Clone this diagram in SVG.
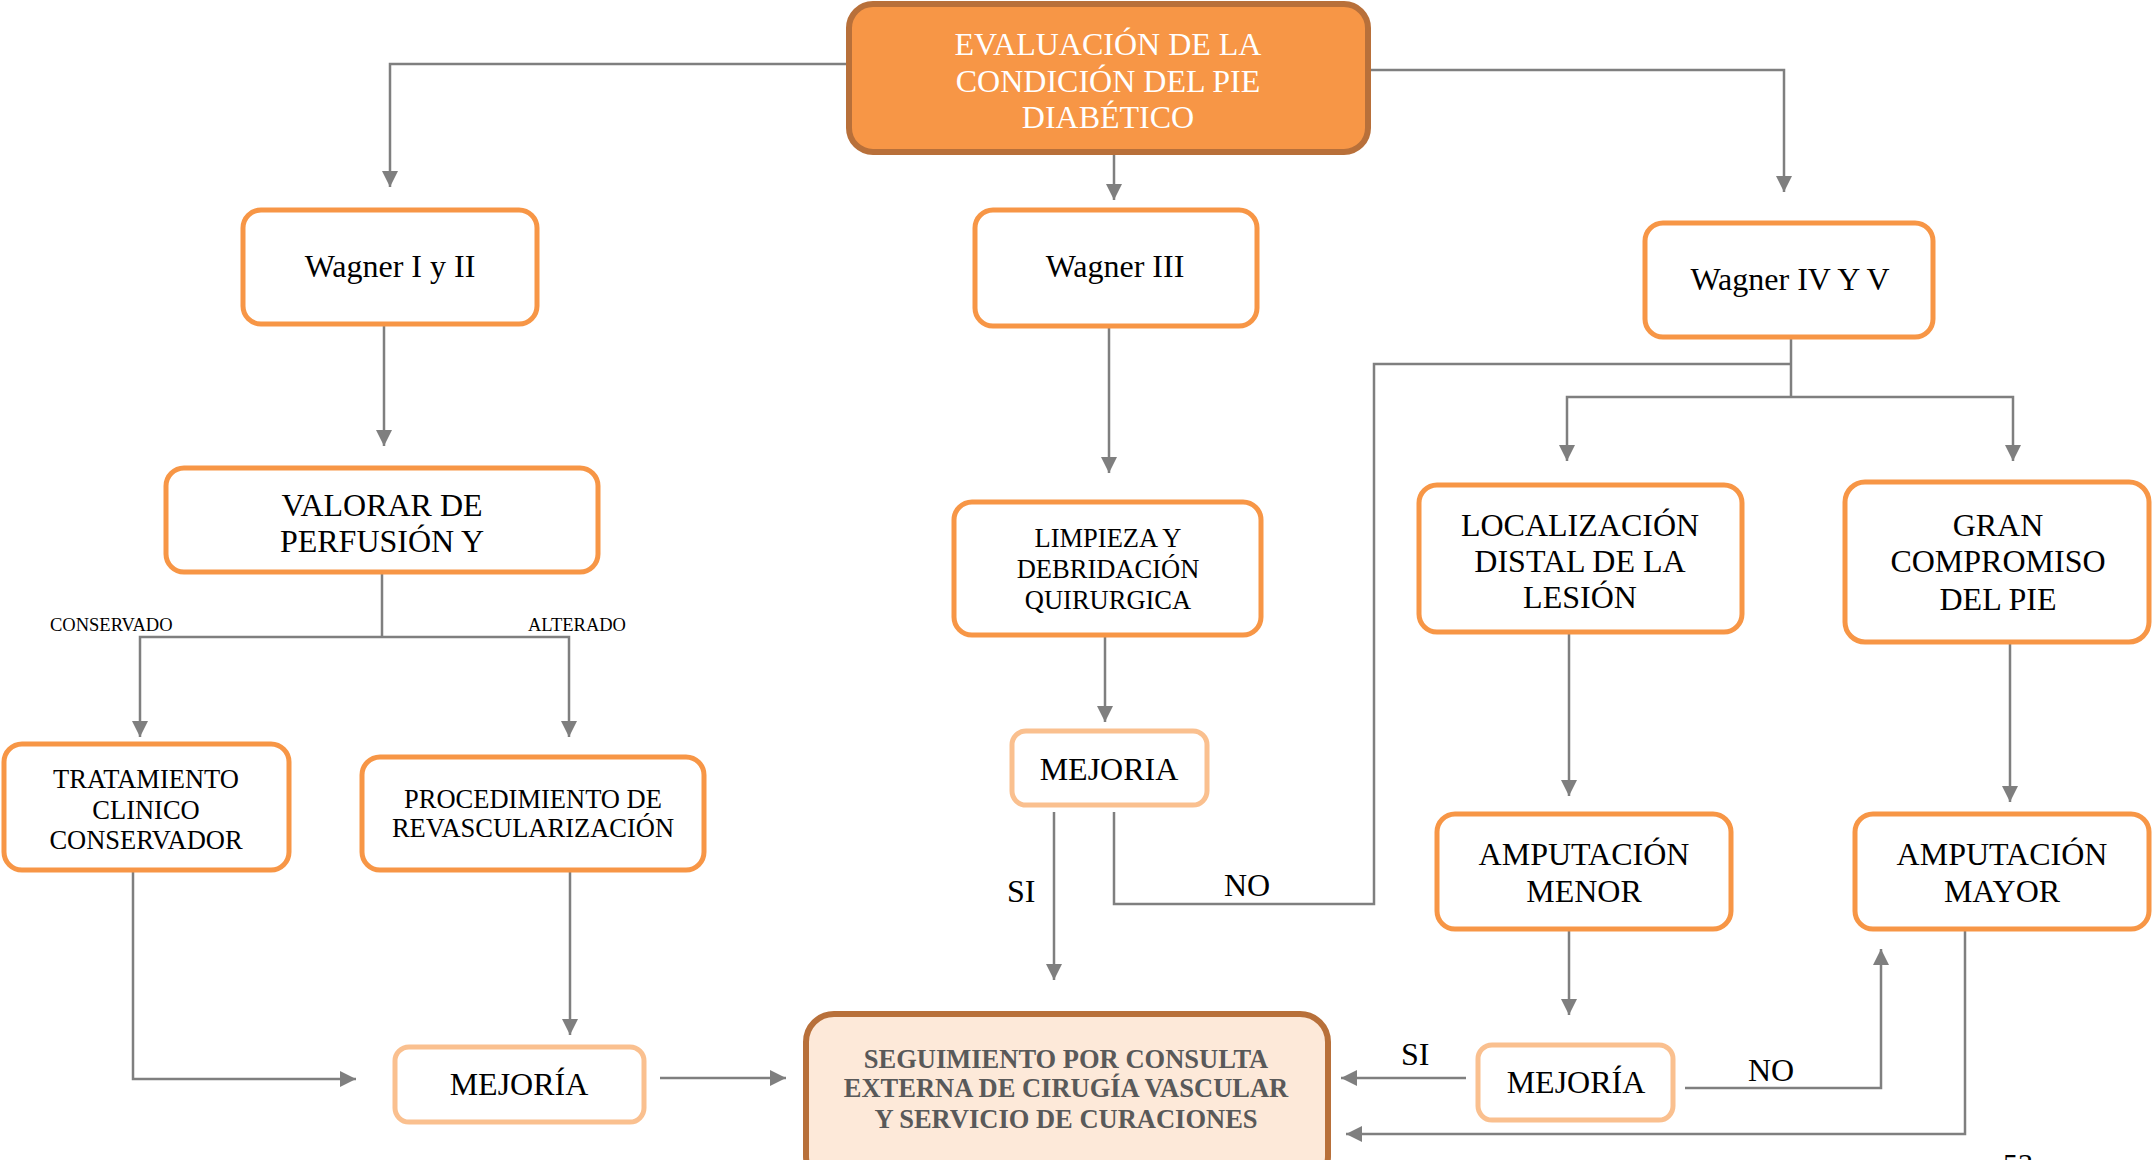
<svg xmlns="http://www.w3.org/2000/svg" width="2156" height="1160" viewBox="0 0 2156 1160">
<defs>
<style>
.box{fill:#fff;stroke:#F79646;stroke-width:5}
.lite{fill:#fff;stroke:#FAC08F;stroke-width:5}
.t{font-family:"Liberation Serif","Times New Roman",serif;fill:#000;text-anchor:middle}
.t32{font-size:32px}
.t26{font-size:26.5px}
.lbl{font-family:"Liberation Serif","Times New Roman",serif;fill:#000}
.c{fill:none;stroke:#7F7F7F;stroke-width:2.5}
.a{marker-end:url(#arr)}
</style>
<marker id="arr" markerUnits="userSpaceOnUse" markerWidth="16" markerHeight="16" refX="16" refY="8" orient="auto">
<path d="M0,0 L16,8 L0,16 z" fill="#7F7F7F"/>
</marker>
</defs>
<rect width="2156" height="1160" fill="#fff"/>

<g id="connectors">
<path class="c a" d="M849,64 H390 V187"/>
<path class="c a" d="M1114,152 V200"/>
<path class="c a" d="M1368,70 H1784 V192"/>
<path class="c a" d="M384,324 V446"/>
<path class="c a" d="M1109,326 V473"/>
<path class="c" d="M1791,337 V397"/>
<path class="c a" d="M1791,397 H1567 V461"/>
<path class="c a" d="M1791,397 H2013 V461"/>
<path class="c" d="M1791,364 H1374 V904 H1114 V812"/>
<path class="c" d="M382,572 V637"/>
<path class="c a" d="M382,637 H140 V737"/>
<path class="c a" d="M382,637 H569 V737"/>
<path class="c a" d="M1105,635 V722"/>
<path class="c a" d="M1054,812 V980"/>
<path class="c a" d="M133,870 V1079 H356"/>
<path class="c a" d="M570,870 V1035"/>
<path class="c a" d="M660,1078 H786"/>
<path class="c a" d="M1569,632 V796"/>
<path class="c a" d="M2010,642 V802"/>
<path class="c a" d="M1569,929 V1015"/>
<path class="c a" d="M1466,1078 H1341"/>
<path class="c a" d="M1685,1088 H1881 V949"/>
<path class="c a" d="M1965,929 V1134 H1346"/>
<text class="lbl" x="50" y="631" font-size="18.5">CONSERVADO</text>
<text class="lbl" x="528" y="631" font-size="18.5">ALTERADO</text>
<text class="lbl" x="1007" y="902" font-size="32">SI</text>
<text class="lbl" x="1224" y="896" font-size="32">NO</text>
<text class="lbl" x="1401" y="1065" font-size="32">SI</text>
<text class="lbl" x="1748" y="1081" font-size="32">NO</text>
</g>

<g id="n-main">
<rect x="849" y="4" width="519" height="148" rx="24" fill="#F79646" stroke="#B8703A" stroke-width="6"/>
<text class="t t32" style="fill:#fff" x="1108" y="55">EVALUACIÓN DE LA</text>
<text class="t t32" style="fill:#fff" x="1108" y="92">CONDICIÓN DEL PIE</text>
<text class="t t32" style="fill:#fff" x="1108" y="128">DIABÉTICO</text>
</g>

<g id="n-wagner12">
<rect class="box" x="243" y="210" width="294" height="114" rx="18"/>
<text class="t t32" x="390" y="277">Wagner I y II</text>
</g>

<g id="n-wagner3">
<rect class="box" x="975" y="210" width="282" height="116" rx="18"/>
<text class="t t32" x="1115" y="277">Wagner III</text>
</g>

<g id="n-wagner45">
<rect class="box" x="1645" y="223" width="288" height="114" rx="18"/>
<text class="t t32" x="1790" y="290">Wagner IV Y V</text>
</g>

<g id="n-valorar">
<rect class="box" x="166" y="468" width="432" height="104" rx="18"/>
<text class="t t32" x="382" y="516">VALORAR DE</text>
<text class="t t32" x="382" y="552">PERFUSIÓN Y</text>
</g>

<g id="n-limpieza">
<rect class="box" x="954" y="502" width="307" height="133" rx="18"/>
<text class="t t26" x="1108" y="547">LIMPIEZA Y</text>
<text class="t t26" x="1108" y="578">DEBRIDACIÓN</text>
<text class="t t26" x="1108" y="609">QUIRURGICA</text>
</g>

<g id="n-mejoria-mid">
<rect class="lite" x="1012" y="731" width="195" height="74" rx="14"/>
<text class="t t32" x="1109" y="780">MEJORIA</text>
</g>

<g id="n-localizacion">
<rect class="box" x="1419" y="485" width="323" height="147" rx="18"/>
<text class="t t32" x="1580" y="536">LOCALIZACIÓN</text>
<text class="t t32" x="1580" y="572">DISTAL DE LA</text>
<text class="t t32" x="1580" y="608">LESIÓN</text>
</g>

<g id="n-gran">
<rect class="box" x="1845" y="482" width="304" height="160" rx="20"/>
<text class="t t32" x="1998" y="536">GRAN</text>
<text class="t t32" x="1998" y="572">COMPROMISO</text>
<text class="t t32" x="1998" y="610">DEL PIE</text>
</g>

<g id="n-tratamiento">
<rect class="box" x="4" y="744" width="285" height="126" rx="18"/>
<text class="t t26" x="146" y="788">TRATAMIENTO</text>
<text class="t t26" x="146" y="819">CLINICO</text>
<text class="t t26" x="146" y="849">CONSERVADOR</text>
</g>

<g id="n-procedimiento">
<rect class="box" x="362" y="757" width="342" height="113" rx="18"/>
<text class="t t26" x="533" y="808">PROCEDIMIENTO DE</text>
<text class="t t26" x="533" y="837">REVASCULARIZACIÓN</text>
</g>

<g id="n-mejoria-left">
<rect class="lite" x="395" y="1047" width="249" height="75" rx="14"/>
<text class="t t32" x="519" y="1095">MEJORÍA</text>
</g>

<g id="n-seguimiento">
<rect x="806" y="1014" width="522" height="170" rx="28" fill="#FDE9D9" stroke="#B8703A" stroke-width="6"/>
<text class="t t26" style="fill:#595959;font-weight:bold" x="1066" y="1068">SEGUIMIENTO POR CONSULTA</text>
<text class="t t26" style="fill:#595959;font-weight:bold" x="1066" y="1097">EXTERNA DE CIRUGÍA VASCULAR</text>
<text class="t t26" style="fill:#595959;font-weight:bold" x="1066" y="1128">Y SERVICIO DE CURACIONES</text>
</g>

<g id="n-amp-menor">
<rect class="box" x="1437" y="814" width="294" height="115" rx="18"/>
<text class="t t32" x="1584" y="865">AMPUTACIÓN</text>
<text class="t t32" x="1584" y="902">MENOR</text>
</g>

<g id="n-amp-mayor">
<rect class="box" x="1855" y="814" width="294" height="115" rx="18"/>
<text class="t t32" x="2002" y="865">AMPUTACIÓN</text>
<text class="t t32" x="2002" y="902">MAYOR</text>
</g>

<g id="n-mejoria-right">
<rect class="lite" x="1478" y="1045" width="195" height="75" rx="14"/>
<text class="t t32" x="1576" y="1093">MEJORÍA</text>
</g>

<text class="lbl" x="2003" y="1174" font-size="30">53</text>
</svg>
